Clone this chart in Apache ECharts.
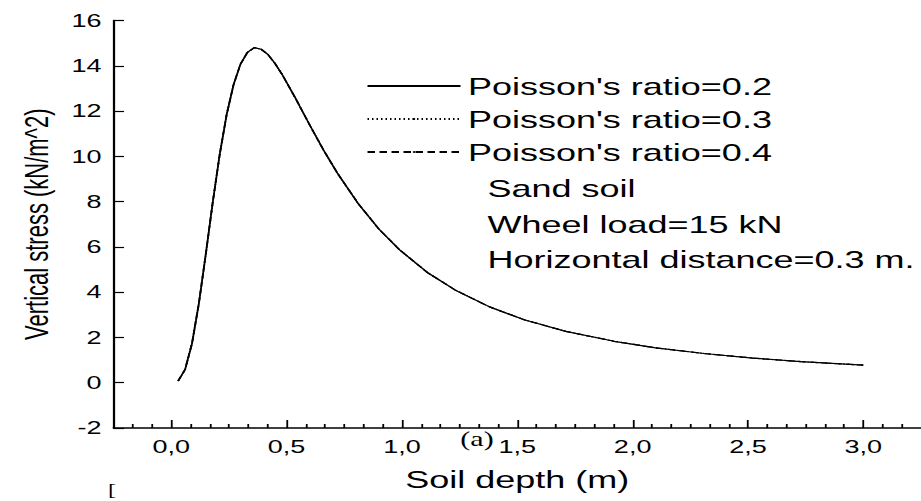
<!DOCTYPE html>
<html>
<head>
<meta charset="utf-8">
<script src="https://cdn.jsdelivr.net/npm/echarts@6/dist/echarts.min.js"></script>
<style>
html,body{margin:0;padding:0;overflow:hidden;background:#fff;}
/* the source figure is stretched sideways, so draw narrow and widen it */
#main{width:614px;height:501px;transform:scaleX(1.5);transform-origin:0 0;}
</style>
</head>
<body>
<div id="main"></div>
<script>
// data
var SOIL_DEPTH=[0.03,0.06,0.09,0.12,0.15,0.18,0.21,0.24,0.27,0.30,0.33,0.36,0.39,0.42,0.45,0.48,0.54,0.60,0.66,0.72,0.81,0.90,0.99,1.11,1.23,1.38,1.53,1.71,1.92,2.10,2.31,2.52,2.73,3.00];
var STRESS_NU02=[0.08,0.58,1.73,3.51,5.69,7.97,10.07,11.83,13.16,14.07,14.59,14.80,14.73,14.49,14.10,13.63,12.54,11.39,10.28,9.26,7.92,6.79,5.87,4.87,4.10,3.35,2.78,2.27,1.83,1.54,1.29,1.09,0.93,0.78];
var STRESS_NU03=[0.08,0.58,1.73,3.51,5.69,7.97,10.07,11.83,13.16,14.07,14.59,14.80,14.73,14.49,14.10,13.63,12.54,11.39,10.28,9.26,7.92,6.79,5.87,4.87,4.10,3.35,2.78,2.27,1.83,1.54,1.29,1.09,0.93,0.78];
var STRESS_NU04=[0.08,0.58,1.73,3.51,5.69,7.97,10.07,11.83,13.16,14.07,14.59,14.80,14.73,14.49,14.10,13.63,12.54,11.39,10.28,9.26,7.92,6.79,5.87,4.87,4.10,3.35,2.78,2.27,1.83,1.54,1.29,1.09,0.93,0.78];
var SERIES_NAMES=["Poisson's ratio=0.2","Poisson's ratio=0.3","Poisson's ratio=0.4"];
var X_TICKS=[0,0.5,1.0,1.5,2.0,2.5,3.0];
var NOTES=["Sand soil","Wheel load=15 kN","Horizontal distance=0.3 m."];

var FONT='"Liberation Sans", Arial, sans-serif';

function pairs(xs,ys){
    var out=[];
    for(var i=0;i<xs.length;i++){
        out.push([xs[i],ys[i]]);
    }
    return out;
}

// minor ticks: 5 between each major step
var X_MINOR=[];
for(var k=-2;k<=38;k++){
    if(k%6!=0){
        X_MINOR.push(k/12);
    }
}

var noteItems=[];
var noteY=[188,224,259];
for(var i=0;i<NOTES.length;i++){
    noteItems.push({
        type:'text',
        style:{x:325,y:noteY[i],text:NOTES[i],font:'24px '+FONT,fill:'#000',verticalAlign:'middle'}
    });
}
noteItems.push({type:'text',style:{x:318,y:439,text:'(a)',font:'20px "Liberation Serif", serif',fill:'#000',align:'center',verticalAlign:'middle'}});
noteItems.push({type:'text',style:{x:72,y:483,text:'[',font:'16px "Liberation Serif", serif',fill:'#000',verticalAlign:'top'}});

var chart=echarts.init(document.getElementById('main'),null,{renderer:'svg'});

var option={
    animation:false,
    grid:{left:75.7,right:0,top:20.5,bottom:73,outerBoundsMode:'none'},
    legend:{
        orient:'vertical',
        left:244,
        top:74,
        padding:0,
        itemWidth:62,
        itemHeight:2,
        itemGap:9,
        selectedMode:false,
        data:SERIES_NAMES,
        itemStyle:{color:'#000',borderWidth:0},
        textStyle:{fontSize:24,color:'#000',fontFamily:FONT,lineHeight:24}
    },
    xAxis:[
        {
            type:'value',
            min:-0.25,
            max:3.25,
            name:'Soil depth (m)',
            nameLocation:'middle',
            nameGap:39,
            nameTextStyle:{fontSize:24,color:'#000',fontFamily:FONT},
            splitLine:{show:false},
            axisLine:{onZero:false,lineStyle:{color:'#000',width:1.5}},
            axisTick:{inside:true,length:8,customValues:X_TICKS,lineStyle:{color:'#000',width:1.2}},
            axisLabel:{
                customValues:X_TICKS,
                margin:10,
                fontSize:18,
                color:'#000',
                fontFamily:FONT,
                formatter:function(v){return v.toFixed(1).replace('.',',');}
            }
        },
        {
            type:'value',
            min:-0.25,
            max:3.25,
            position:'bottom',
            offset:0,
            splitLine:{show:false},
            axisLine:{show:false,onZero:false},
            axisLabel:{show:false},
            axisTick:{inside:true,length:4,customValues:X_MINOR,lineStyle:{color:'#000',width:1.2}}
        }
    ],
    yAxis:{
        type:'value',
        min:-2,
        max:16,
        interval:2,
        name:'Vertical stress (kN/m^2)',
        nameLocation:'middle',
        nameGap:40,
        nameRotate:90,
        nameTextStyle:{fontSize:22,color:'#000',fontFamily:FONT},
        splitLine:{show:false},
        axisLine:{show:true,onZero:false,lineStyle:{color:'#000',width:1.5}},
        axisTick:{show:true,inside:true,length:7,lineStyle:{color:'#000',width:1.2}},
        axisLabel:{margin:8,fontSize:18,color:'#000',fontFamily:FONT}
    },
    graphic:noteItems,
    series:[
        {
            name:SERIES_NAMES[1],
            type:'line',
            symbol:'none',
            showSymbol:false,
            itemStyle:{color:'#000'},
            lineStyle:{color:'#000',width:1.2,type:[1,2]},
            data:pairs(SOIL_DEPTH,STRESS_NU03)
        },
        {
            name:SERIES_NAMES[2],
            type:'line',
            symbol:'none',
            showSymbol:false,
            itemStyle:{color:'#000'},
            lineStyle:{color:'#000',width:1.2,type:[5,3]},
            data:pairs(SOIL_DEPTH,STRESS_NU04)
        },
        {
            name:SERIES_NAMES[0],
            type:'line',
            symbol:'none',
            showSymbol:false,
            itemStyle:{color:'#000'},
            lineStyle:{color:'#000',width:1.2,type:'solid'},
            data:pairs(SOIL_DEPTH,STRESS_NU02)
        }
    ]
};

chart.setOption(option);
</script>
</body>
</html>
